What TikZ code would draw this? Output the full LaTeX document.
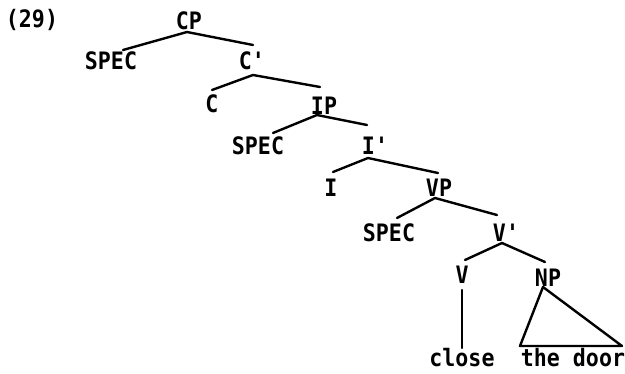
\documentclass[tikz,border=0pt]{standalone}
\usepackage{fontspec}
\newfontfamily\treefont{DejaVu Sans Mono}[FakeStretch=0.9]
\usetikzlibrary{calc}
\tikzset{
  lbl/.style={anchor=base,inner sep=0pt,font=\treefont\bfseries\fontsize{24}{26}\selectfont},
  br/.style={line width=2.4pt,line cap=round,line join=round}
}
\begin{document}
\begin{tikzpicture}[x=1pt,y=-1pt]
\useasboundingbox (0,0) rectangle (625,374);
\node[lbl] (n29) at (32,28) {(29)};
\node[lbl] (CP) at (189,30) {CP};
\node[lbl] (SPECa) at (111,70) {SPEC};
\node[lbl] (Cbar) at (252,70) {C'};
\node[lbl] (C) at (212,113) {C};
\node[lbl] (IP) at (324,115) {IP};
\node[lbl] (SPECb) at (258,155) {SPEC};
\node[lbl] (Ibar) at (375,155) {I'};
\node[lbl] (I) at (331,197) {I};
\node[lbl] (VP) at (439,197) {VP};
\node[lbl] (SPECc) at (389,242) {SPEC};
\node[lbl] (Vbar) at (506,242) {V'};
\node[lbl] (V) at (462,284) {V};
\node[lbl] (NP) at (548,287) {NP};
\node[lbl] (close) at (462,367) {close};
\node[lbl] (door) at (573,367) {the door};
% CP
\draw[br] ($(SPECa.base)+(12,-20)$) -- ($(CP.base)+(-2,2)$) -- ($(Cbar.base)+(1,-25)$);
% C'
\draw[br] ($(C.base)+(0,-23)$) -- ($(Cbar.base)+(1,5)$) -- ($(IP.base)+(-4,-28)$);
% IP
\draw[br] ($(SPECb.base)+(15,-22)$) -- ($(IP.base)+(-7,0)$) -- ($(Ibar.base)+(-8,-30)$);
% I'
\draw[br] ($(I.base)+(2,-25)$) -- ($(Ibar.base)+(-7,3)$) -- ($(VP.base)+(-1,-24)$);
% VP
\draw[br] ($(SPECc.base)+(8,-24)$) -- ($(VP.base)+(-4,1)$) -- ($(Vbar.base)+(-9,-27)$);
% V'
\draw[br] ($(V.base)+(3,-24)$) -- ($(Vbar.base)+(-4,1)$) -- ($(NP.base)+(-3,-25)$);
% V -> close
\draw[br] ($(V.base)+(0,6)$) -- ($(close.base)+(0,-19)$);
% NP triangle
\draw[br] ($(NP.base)+(-5,0)$) -- ($(door.base)+(-53,-21)$) -- ($(door.base)+(49,-21)$) -- cycle;
\end{tikzpicture}
\end{document}
